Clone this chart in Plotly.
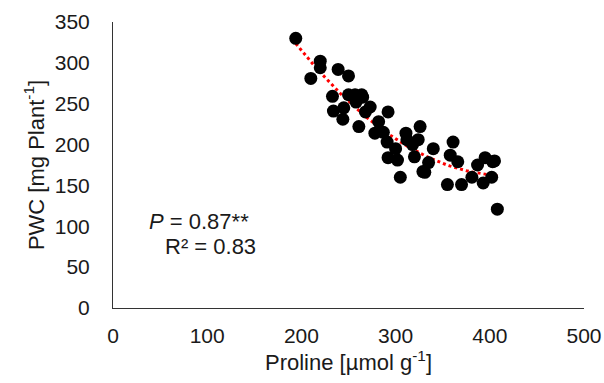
import numpy as np
import plotly.graph_objects as go

proline = [194, 210, 220, 220, 233, 234, 239, 244, 250, 250, 257, 264, 261, 273, 278, 287,
           291, 292, 302, 305, 311, 312, 320, 324, 326, 329, 331, 340, 292, 245, 258, 268,
           355, 358, 361, 366, 370, 381, 387, 393, 395, 402, 403, 405, 408, 265, 282, 300,
           335, 318]
pwc = [330, 281, 302, 294, 259, 241, 292, 231, 284, 261, 261, 261, 222, 246, 214, 215,
       203, 184, 181, 160, 214, 206, 185, 206, 222, 167, 166, 195, 240, 245, 252, 240,
       151, 187, 203, 179, 151, 160, 175, 153, 184, 160, 179, 180, 121, 258, 228, 195,
       178, 200]

x_ticks = [0, 100, 200, 300, 400, 500]
y_ticks = [0, 50, 100, 150, 200, 250, 300, 350]

coef = np.polyfit(proline, pwc, 2)
tx = np.linspace(min(proline), max(proline), 60)
ty = np.polyval(coef, tx)

fig = go.Figure()
fig.add_trace(go.Scatter(x=tx, y=ty, mode="lines",
                         line=dict(color="#ff0000", width=3, dash="dot"),
                         hoverinfo="skip"))
fig.add_trace(go.Scatter(x=proline, y=pwc, mode="markers",
                         marker=dict(color="black", size=13)))

font = "Liberation Sans, Arial, sans-serif"
txt = "#1a1a1a"
fig.add_annotation(x=91, y=106, xref="x", yref="y", showarrow=False,
                   text="<i>P</i> = 0.87**", font=dict(family=font, size=22, color=txt))
fig.add_annotation(x=104, y=75, xref="x", yref="y", showarrow=False,
                   text="R² = 0.83", font=dict(family=font, size=22, color=txt))

fig.update_layout(
    width=604, height=383, margin=dict(l=113, r=20, t=22, b=75),
    paper_bgcolor="white", plot_bgcolor="white", showlegend=False,
    font=dict(family=font, size=20, color=txt),
)
fig.update_xaxes(range=[0, 500], tickvals=x_ticks, showgrid=False, zeroline=False,
                 showline=True, linecolor="#333", linewidth=1, automargin=False,
                 ticks="outside", ticklen=9, tickcolor="rgba(0,0,0,0)",
                 tickfont=dict(size=21),
                 title=dict(text="Proline [µmol g<sup>-1</sup>]", standoff=2,
                            font=dict(size=22)))
fig.update_yaxes(range=[0, 350], tickvals=y_ticks, showgrid=False, zeroline=False,
                 showline=True, linecolor="#333", linewidth=1, automargin=False,
                 ticks="outside", ticklen=18, tickcolor="rgba(0,0,0,0)",
                 tickfont=dict(size=21),
                 title=dict(text="PWC [mg Plant<sup>-1</sup>]", standoff=4,
                            font=dict(size=22)))

fig.write_html("out.html")
